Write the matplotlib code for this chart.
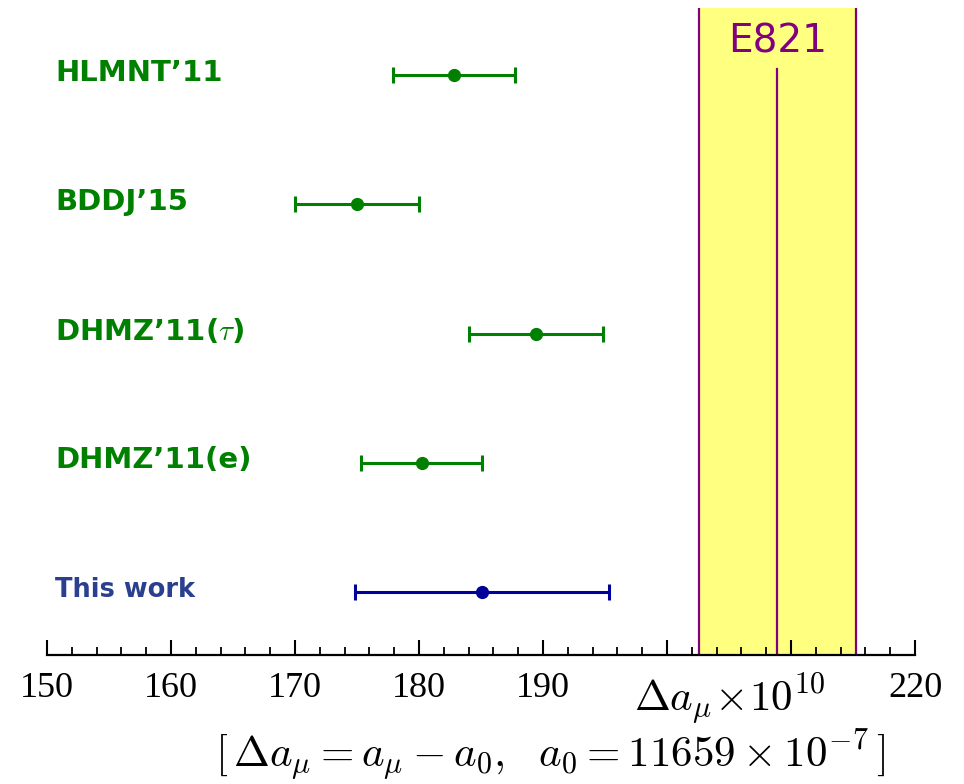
import matplotlib
matplotlib.use("Agg")
import matplotlib.pyplot as plt
from matplotlib.ticker import MultipleLocator

plt.rcParams["mathtext.fontset"] = "cm"

# 数据（单位 10^-10）
labels = ["HLMNT’11", "BDDJ’15", r"DHMZ’11($\tau$)", "DHMZ’11(e)", "This work"]
centers = [182.8, 175.0, 189.4, 180.2, 185.1]
errors = [4.9, 5.0, 5.4, 4.9, 10.25]
ypos = [5, 4, 3, 2, 1]
colors = ["#008000", "#008000", "#008000", "#008000", "#00009a"]
text_colors = ["#008000", "#008000", "#008000", "#008000", "#2b3f8f"]
text_sizes = [21, 21, 21, 21, 18.5]

e821_center = 208.9
e821_err = 6.3

xticks = [150, 160, 170, 180, 190, 200, 210, 220]
xticklabels = ["150", "160", "170", "180", "190", "", "", "220"]

fig = plt.figure(figsize=(9.64, 7.84), dpi=100)
ax = fig.add_axes([0.0488, 0.1645, 0.9004, 0.825])

# E821 带
ax.axvspan(e821_center - e821_err, e821_center + e821_err, color="#ffff80", zorder=0)
for xe in (e821_center - e821_err, e821_center + e821_err):
    ax.axvline(xe, color="#800080", lw=1.6, zorder=1)
ax.plot([e821_center, e821_center], [0.5, 5.05], color="#800080", lw=1.6, zorder=1)
ax.text(e821_center, 5.26, "E821", color="#800080", fontsize=28,
        ha="center", va="center", family="DejaVu Sans")

# 各个结果
for lab, c, e, y, col, tcol, ts in zip(labels, centers, errors, ypos, colors,
                                         text_colors, text_sizes):
    ax.errorbar(c, y, xerr=e, fmt="o", color=col, ms=8.5, lw=2.2,
                capsize=5.5, capthick=2.2, zorder=3)
    ax.text(150.65, y + 0.02, lab, color=tcol, fontsize=ts, fontweight="bold",
            ha="left", va="center", family="DejaVu Sans")

ax.set_xlim(150, 220)
ax.set_ylim(0.513, 5.518)
ax.set_yticks([])
for s in ("left", "right", "top"):
    ax.spines[s].set_visible(False)
ax.spines["bottom"].set_linewidth(1.6)

ax.xaxis.set_major_locator(MultipleLocator(10))
ax.xaxis.set_minor_locator(MultipleLocator(2))
ax.set_xticks(xticks)
ax.set_xticklabels(xticklabels, family="Liberation Serif", fontsize=26)
ax.tick_params(axis="x", which="major", direction="in", length=11, width=1.5, pad=12)
ax.tick_params(axis="x", which="minor", direction="in", length=6, width=1.3)

fig.text(0.757, 0.108, r"$\Delta a_\mu\!\times\!10^{10}$", fontsize=31,
         ha="center", va="center")
fig.text(0.571, 0.036,
         r"$[\,\Delta a_\mu = a_\mu - a_0,\ \ a_0 = 11659\times 10^{-7}\,]$",
         fontsize=31, ha="center", va="center")

fig.savefig("out.png", dpi=100)
